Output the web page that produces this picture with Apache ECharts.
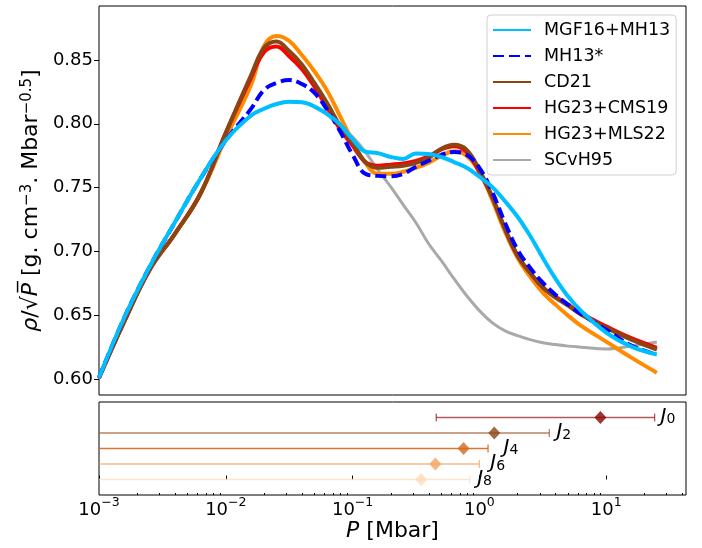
<!DOCTYPE html>
<html><head><meta charset="utf-8">
<script src="https://cdn.jsdelivr.net/npm/echarts/dist/echarts.min.js"></script>
<style>html,body{margin:0;padding:0;background:#fff}#c{width:702px;height:548px}</style>
</head><body><div id="c"></div>
<script>
// ---------- data ----------
const pressure = [0.001, 0.00158, 0.00251, 0.00398, 0.00631, 0.01, 0.0158, 0.02, 0.0251, 0.0316, 0.0398, 0.0501, 0.0631, 0.0794,
  0.1, 0.126, 0.158, 0.2, 0.251, 0.316, 0.398, 0.501, 0.631, 0.794, 1.0, 1.26, 1.58, 2.0, 2.51, 3.16, 3.98, 5.01, 6.31, 10, 15.8, 25.1];
const mgf16 = [0.601, 0.648, 0.688, 0.723, 0.757, 0.787, 0.8065, 0.8118, 0.8155, 0.8172, 0.8168, 0.8135, 0.8075, 0.7995,
  0.788, 0.7782, 0.777, 0.774, 0.7725, 0.7768, 0.7764, 0.774, 0.770, 0.7655, 0.7585, 0.7506, 0.7397, 0.7272, 0.7123, 0.695, 0.6787, 0.6646, 0.6536, 0.6364, 0.6254, 0.6192];
const mh13 = [0.601, 0.648, 0.688, 0.723, 0.757, 0.787, 0.8117, 0.8265, 0.832, 0.8343, 0.8312, 0.8242, 0.8109, 0.7944,
  0.7757, 0.7608, 0.7592, 0.7588, 0.7608, 0.7663, 0.771, 0.7757, 0.778, 0.7757, 0.7655, 0.7467, 0.7232, 0.7013, 0.6872, 0.6755, 0.6661, 0.6583, 0.6512, 0.6387, 0.6262, 0.6192];
const cd21 = [0.601, 0.645, 0.6857, 0.714, 0.7452, 0.7929, 0.838, 0.8595, 0.8645, 0.857, 0.8465, 0.8318, 0.816, 0.7987,
  0.785, 0.770, 0.7655, 0.7663, 0.7671, 0.7694, 0.7733, 0.7804, 0.7835, 0.7796, 0.7639, 0.7428, 0.7185, 0.6967, 0.6833, 0.6716, 0.6638, 0.6575, 0.6505, 0.6403, 0.6309, 0.6231];
const hg23cms = [0.601, 0.645, 0.6857, 0.714, 0.7452, 0.7929, 0.836, 0.856, 0.8605, 0.853, 0.843, 0.829, 0.8125, 0.796,
  0.783, 0.770, 0.7672, 0.768, 0.769, 0.771, 0.7745, 0.780, 0.7825, 0.778, 0.762, 0.7428, 0.7185, 0.6967, 0.6835, 0.672, 0.6645, 0.6582, 0.6515, 0.6413, 0.632, 0.6245];
const hg23mls = [0.601, 0.645, 0.6857, 0.714, 0.7452, 0.789, 0.8304, 0.861, 0.8688, 0.865, 0.8539, 0.841, 0.8258, 0.8062,
  0.7863, 0.7694, 0.7608, 0.7608, 0.7624, 0.7655, 0.7694, 0.7749, 0.7784, 0.7749, 0.7624, 0.7405, 0.7162, 0.695, 0.6802, 0.6677, 0.6583, 0.6497, 0.6419, 0.6293, 0.6168, 0.605];
const scvh95 = [0.601, 0.648, 0.688, 0.723, 0.757, 0.787, 0.8065, 0.8118, 0.8155, 0.8172, 0.8168, 0.8135, 0.8075, 0.7985,
  0.7898, 0.778, 0.7639, 0.7506, 0.7365, 0.7225, 0.706, 0.6927, 0.6786, 0.6653, 0.6536, 0.6442, 0.638, 0.634, 0.6309, 0.6285, 0.627, 0.6258, 0.625, 0.6235, 0.6258, 0.629];

const legendNames = ['MGF16+MH13', 'MH13*', 'CD21', 'HG23+CMS19', 'HG23+MLS22', 'SCvH95'];

// gravity moments panel
const jSub = ['0', '2', '4', '6', '8'];
const jRow = [4, 3, 2, 1, 0];
const jCenter = [9.0, 1.31, 0.75, 0.449, 0.347];
const jLow = [0.457, 0.0001, 0.0001, 0.0001, 0.0001];
const jHigh = [24.1, 3.56, 1.17, 1.0, 0.84];
const jLabelP = [26.8, 4.05, 1.55, 1.22, 0.96];
const jColor = ['#8B0000', '#8B4513', '#D2691E', '#F4A460', '#FFDAB9'];
const jBarColor = ['rgba(139,0,0,0.65)', 'rgba(160,90,45,0.75)', 'rgba(210,105,30,0.9)', 'rgba(244,164,96,0.75)', 'rgba(255,218,185,0.75)'];

const yTicks = [0.60, 0.65, 0.70, 0.75, 0.80, 0.85];
const xTicks = [0.001, 0.01, 0.1, 1, 10];
const xMinorTicks = [0.002, 0.003, 0.004, 0.005, 0.006, 0.007, 0.008, 0.009,
  0.02, 0.03, 0.04, 0.05, 0.06, 0.07, 0.08, 0.09,
  0.2, 0.3, 0.4, 0.5, 0.6, 0.7, 0.8, 0.9,
  2, 3, 4, 5, 6, 7, 8, 9, 20, 30, 40];

// ---------- chart ----------
const FONT = 'DejaVu Sans';
const XMIN = 0.001, XMAX = 42.6;
const chart = echarts.init(document.getElementById('c'));

function lineSeries(name, vals, color, width, type) {
  return {
    name, type: 'line', xAxisIndex: 0, yAxisIndex: 0, symbol: 'none', smooth: 0.4,
    data: pressure.map((p, i) => [p, vals[i]]),
    lineStyle: { color, width, type }, itemStyle: { color }, animation: false
  };
}

function pow10Label(v) {
  const e = Math.round(Math.log10(v));
  return '{b|10}{s|' + (e < 0 ? '−' + (-e) : e) + '}';
}

const option = {
  animation: false,
  textStyle: { fontFamily: FONT },
  grid: [
    { left: 99, right: 16, top: 6, height: 389, show: true, borderColor: '#000', borderWidth: 1, containLabel: false },
    { left: 99, right: 16, top: 402, height: 93, show: true, borderColor: '#000', borderWidth: 1, containLabel: false }
  ],
  legend: {
    orient: 'vertical', left: 487, top: 15,
    data: legendNames,
    itemWidth: 38, itemHeight: 14, itemGap: 8,
    padding: [6, 6, 6, 5],
    itemStyle: { opacity: 0, borderWidth: 0 },
    backgroundColor: '#fff', borderColor: '#d0d0d0', borderWidth: 1, borderRadius: 4,
    textStyle: { fontFamily: FONT, fontSize: 17.5, color: '#000', padding: [0, 0, 0, 8] }
  },
  xAxis: [
    { type: 'log', gridIndex: 0, min: XMIN, max: XMAX, logBase: 10,
      axisLine: { show: false }, axisTick: { show: false }, axisLabel: { show: false }, splitLine: { show: false } },
    { type: 'log', gridIndex: 1, min: XMIN, max: XMAX, logBase: 10, position: 'bottom',
      axisLine: { show: false }, splitLine: { show: false },
      axisTick: { show: true, inside: true, length: 4, customValues: xTicks, lineStyle: { color: '#000' } },
      axisLabel: { show: true, customValues: xTicks, margin: 1, formatter: pow10Label, color: '#000',
        rich: { b: { fontSize: 18, fontFamily: FONT, color: '#000', padding: [5, 0, 0, 0] },
                s: { fontSize: 12.5, fontFamily: FONT, color: '#000', verticalAlign: 'top' } } },
      name: '{i|P} [Mbar]', nameLocation: 'middle', nameGap: 22,
      nameTextStyle: { fontSize: 22, fontFamily: FONT, color: '#000', rich: { i: { fontSize: 22, fontStyle: 'italic', fontFamily: FONT, color: '#000' } } } },
    { type: 'log', gridIndex: 1, min: XMIN, max: XMAX, logBase: 10, position: 'bottom', offset: 0,
      axisLine: { show: false }, splitLine: { show: false }, axisLabel: { show: false },
      axisTick: { show: true, inside: true, length: 2, customValues: xMinorTicks, lineStyle: { color: '#000' } } }
  ],
  yAxis: [
    { type: 'value', gridIndex: 0, min: 0.5875, max: 0.8923,
      axisLine: { show: false }, splitLine: { show: false },
      axisTick: { show: true, length: 5, customValues: yTicks, lineStyle: { color: '#000' } },
      axisLabel: { customValues: yTicks, formatter: v => v.toFixed(2), fontSize: 18, fontFamily: FONT, color: '#000', margin: 6 },
      name: '{i|ρ}/√{i|P̅} [g. cm{s|−3}. Mbar{s|−0.5}]', nameLocation: 'middle', nameGap: 56,
      nameTextStyle: { fontSize: 22, fontFamily: FONT, color: '#000',
        rich: { i: { fontSize: 22, fontStyle: 'italic', fontFamily: FONT, color: '#000' },
                s: { fontSize: 15, fontFamily: FONT, color: '#000', verticalAlign: 'top' } } } },
    { type: 'value', gridIndex: 1, min: -1, max: 5, show: false }
  ],
  series: [
    lineSeries('SCvH95', scvh95, '#A9A9A9', 3, 'solid'),
    lineSeries('HG23+MLS22', hg23mls, '#FF8C00', 4, 'solid'),
    lineSeries('HG23+CMS19', hg23cms, '#FF0000', 4, 'solid'),
    lineSeries('CD21', cd21, '#8B4513', 4, 'solid'),
    lineSeries('MH13*', mh13, '#0000FF', 4, [11, 5]),
    lineSeries('MGF16+MH13', mgf16, '#00BFFF', 4, 'solid'),
    {
      type: 'custom', xAxisIndex: 1, yAxisIndex: 1,
      data: jCenter.map((c, i) => [c, jRow[i], jLow[i], jHigh[i]]),
      encode: { x: 0, y: 1 },
      renderItem: function (params, api) {
        const row = api.value(1);
        const a = api.coord([api.value(2), row]);
        const b = api.coord([api.value(3), row]);
        const cs = params.coordSys;
        const x0 = Math.max(a[0], cs.x), x1 = Math.min(b[0], cs.x + cs.width);
        const col = jBarColor[params.dataIndex];
        const ch = [{ type: 'line', shape: { x1: x0, y1: a[1], x2: x1, y2: a[1] }, style: { stroke: col, lineWidth: 1.5 } }];
        if (a[0] >= cs.x) ch.push({ type: 'line', shape: { x1: a[0], y1: a[1] - 4, x2: a[0], y2: a[1] + 4 }, style: { stroke: col, lineWidth: 1.3 } });
        if (b[0] <= cs.x + cs.width) ch.push({ type: 'line', shape: { x1: b[0], y1: b[1] - 4, x2: b[0], y2: b[1] + 4 }, style: { stroke: col, lineWidth: 1.3 } });
        return { type: 'group', children: ch };
      }
    },
    {
      type: 'scatter', xAxisIndex: 1, yAxisIndex: 1, symbol: 'diamond', symbolSize: [12, 13],
      data: jCenter.map((c, i) => ({ value: [c, jRow[i]], itemStyle: { color: jColor[i] } })),
      z: 5
    },
    {
      type: 'custom', xAxisIndex: 1, yAxisIndex: 1,
      data: jLabelP.map((p, i) => [p, jRow[i]]),
      encode: { x: 0, y: 1 },
      renderItem: function (params, api) {
        const p = api.coord([api.value(0), api.value(1)]);
        return {
          type: 'text', x: p[0], y: p[1] - 1,
          style: {
            text: '{j|J}{s|' + jSub[params.dataIndex] + '}',
            rich: {
              j: { fontSize: 20, fontStyle: 'italic', fontFamily: FONT, fill: '#000' },
              s: { fontSize: 14, fontFamily: FONT, fill: '#000', verticalAlign: 'bottom' }
            },
            fill: '#000', align: 'left', verticalAlign: 'middle'
          }
        };
      }
    }
  ]
};
chart.setOption(option);
</script>
</body></html>
